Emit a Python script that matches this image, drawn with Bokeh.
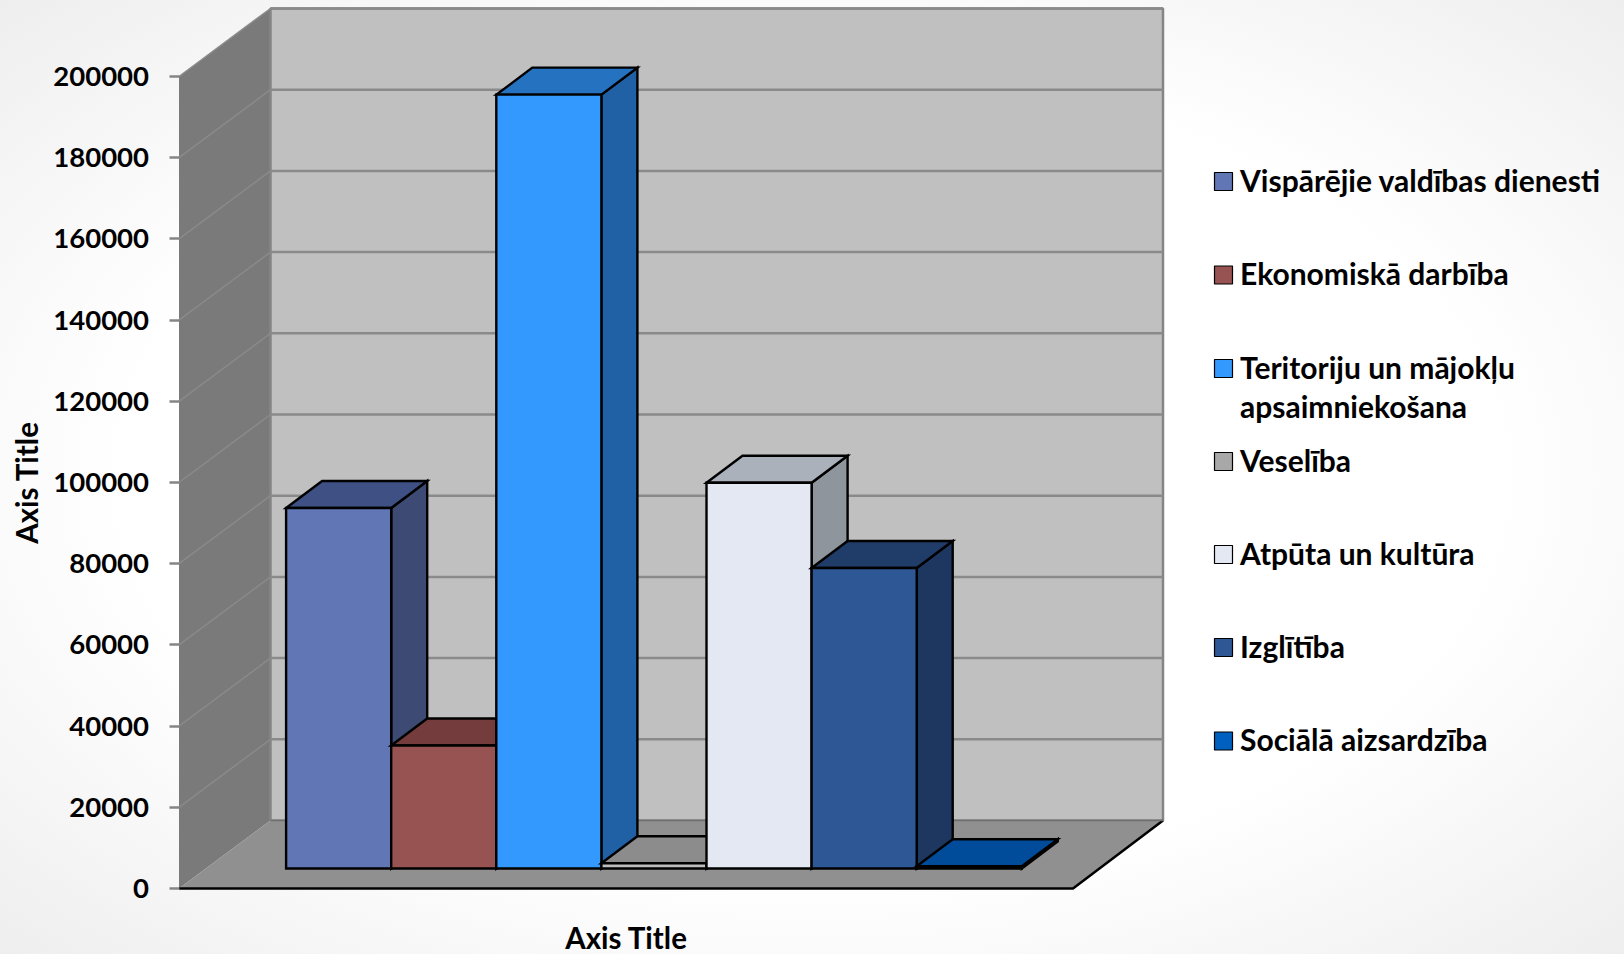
from bokeh.plotting import figure
from bokeh.models import Range1d, FixedTicker, BasicTickFormatter
from bokeh.core.properties import value
from bokeh.embed import file_html
from bokeh.resources import INLINE

# ---------- data ----------
categories = ["Vispārējie valdības dienesti", "Ekonomiskā darbība",
              "Teritoriju un mājokļu\napsaimniekošana", "Veselība",
              "Atpūta un kultūra", "Izglītība", "Sociālā aizsardzība"]
values = [88800, 30300, 190600, 1300, 95000, 74000, 550]
tick_values = [0, 20000, 40000, 60000, 80000, 100000, 120000, 140000, 160000, 180000, 200000]
front_colors = ["#6176B4", "#975252", "#3399FF", "#BDBDBD", "#E4E8F2", "#2D5795", "#0060BF"]
legend_colors = ["#6176B4", "#975252", "#3399FF", "#A8A8A8", "#E4E8F2", "#2D5795", "#0060BF"]
top_colors = ["#3F5184", "#743C3C", "#2573C0", "#8C8C8C", "#ABB1BA", "#203C68", "#004C9A"]
side_colors = ["#3C4A74", "#5E3333", "#2060A5", "#777777", "#8F959C", "#1E3761", "#003D7A"]
legend_y_px = [181, 274.5, 368, 461, 554, 647, 740.5]

# ---------- layout constants (page pixels) ----------
PXV = 0.00406          # px per value unit
Y0 = 888               # page y of value 0 on the front plane
BAR_X0, BAR_W = 285.6, 105.1
WALL_L, WALL_R_FRONT, WALL_R = 178.5, 1072.5, 1162.5
WALL_DX, WALL_DY = 91.5, 68
BAR_BASE_DY, BAR_DX, BAR_DY = 20, 36, 27
W, H = 1624, 954

def X(px):            # page px -> x data (bar-width units)
    return (px - BAR_X0) / BAR_W
def V(py):            # page py -> value units
    return (Y0 - py) / PXV

p = figure(width=W, height=H, output_backend="svg", toolbar_location=None,
           x_range=Range1d(X(0), X(W)), y_range=Range1d(V(H), V(0)),
           min_border=0, min_border_left=0, min_border_right=0,
           min_border_top=0, min_border_bottom=0, x_axis_location=None,
           background_fill_alpha=0, border_fill_alpha=0)
p.styles = {"background": "radial-gradient(ellipse at center, #ffffff 60%, #eeeeee 100%)"}
p.outline_line_color = None
p.grid.visible = False

top_v = tick_values[-1]
dxw, dvw = WALL_DX / BAR_W, WALL_DY / PXV
xl, xr, xrf = X(WALL_L), X(WALL_R), X(WALL_R_FRONT)

# walls and floor
p.patch([xl, xl, xl + dxw, xl + dxw], [0, top_v, top_v + dvw, dvw], fill_color="#7A7A7A", line_color=None)
p.patch([xl + dxw, xr, xr, xl + dxw], [dvw, dvw, top_v + dvw, top_v + dvw], fill_color="#C0C0C0",
        line_color="#858585", line_width=2.5)
p.patch([xl, xrf, xr, xl + dxw], [0, 0, dvw, dvw], fill_color="#909090", line_color=None)

# grid lines
gv = tick_values[1:]
p.segment([xl + dxw] * len(gv), [v + dvw for v in gv], [xr] * len(gv), [v + dvw for v in gv],
          line_color="#8A8A8A", line_width=2.5)
p.segment([xl] * len(gv), gv, [xl + dxw] * len(gv), [v + dvw for v in gv],
          line_color="#8A8A8A", line_width=1.5)

# floor edges
p.line([xl, xrf, xr], [0, 0, dvw], line_color="black", line_width=2.5)
p.line([xl + dxw, xr], [dvw, dvw], line_color="#707070", line_width=1.5)

# bars
base = BAR_BASE_DY / PXV
dxb, dvb = BAR_DX / BAR_W, BAR_DY / PXV
edge = dict(line_color="black", line_width=2.4, line_join="miter")
for i, v in enumerate(values):
    t = v + base
    p.patch([i + 1, i + 1 + dxb, i + 1 + dxb, i + 1], [base, base + dvb, t + dvb, t],
            fill_color=side_colors[i], **edge)
    p.patch([i, i + dxb, i + 1 + dxb, i + 1], [t, t + dvb, t + dvb, t],
            fill_color=top_colors[i], **edge)
    p.patch([i, i + 1, i + 1, i], [base, base, t, t], fill_color=front_colors[i], **edge)

# value axis
ax = p.yaxis[0]
ax.fixed_location = xl
ax.ticker = FixedTicker(ticks=tick_values)
ax.formatter = BasicTickFormatter(use_scientific=False)
ax.axis_line_color = None
ax.major_tick_line_color = "#858585"
ax.major_tick_line_width = 2.5
ax.major_tick_in = 0
ax.major_tick_out = 10
ax.minor_tick_line_color = None
ax.major_label_standoff = 20
ax.major_label_text_font = "Lato"
ax.major_label_text_font_style = "bold"
ax.major_label_text_font_size = "27.5px"
ax.major_label_text_color = "black"

# axis titles
font = dict(text_font=value("Lato"), text_font_style="bold", text_color="black")
p.text([X(26)], [V(482)], text=["Axis Title"], angle=[1.5708], text_font_size="29.5px",
       text_align="center", text_baseline="middle", **font)
p.text([X(626)], [V(937)], text=["Axis Title"], text_font_size="29.5px",
       text_align="center", text_baseline="middle", **font)

# legend
for label, ypx, col in zip(categories, legend_y_px, legend_colors):
    p.scatter([X(1223)], [V(ypx)], marker="square", size=18, fill_color=col,
              line_color="black", line_width=1.2)
    for k, line in enumerate(label.split("\n")):
        p.text([X(1239.5)], [V(ypx + 39 * k - 2)], text=[line], text_font_size="30px",
               text_align="left", text_baseline="middle", **font)

open("out.html", "w").write(file_html(p, INLINE))
